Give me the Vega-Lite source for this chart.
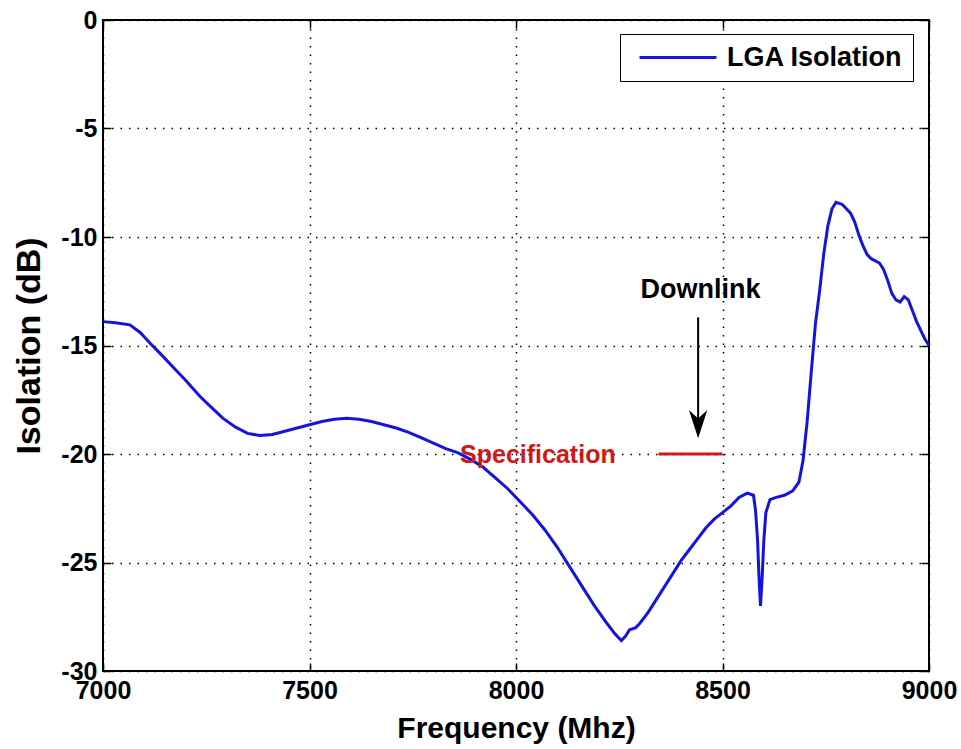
{
  "$schema": "https://vega.github.io/schema/vega-lite/v6.json",
  "width": 826,
  "height": 651,
  "autosize": {"type": "none"},
  "padding": {"left": 103, "top": 20, "right": 32, "bottom": 78},
  "background": "white",
  "config": {
    "view": {"stroke": "black", "strokeWidth": 2},
    "font": "Liberation Sans",
    "axis": {
      "grid": true,
      "gridColor": "black",
      "gridDash": [1.5, 7],
      "gridWidth": 1.5,
      "gridOpacity": 1,
      "domain": false,
      "tickColor": "black",
      "tickSize": -8,
      "tickWidth": 1.5,
      "labelFont": "Liberation Sans",
      "labelFontWeight": "bold",
      "labelFontSize": 25,
      "labelColor": "black",
      "titleFont": "Liberation Sans",
      "titleFontWeight": "bold",
      "titleColor": "black"
    }
  },
  "datasets": {
    "curve": [
      {"f": 7000, "v": -13.9}, {"f": 7030, "v": -13.95}, {"f": 7065, "v": -14.05}, {"f": 7090, "v": -14.4},
      {"f": 7114, "v": -14.9}, {"f": 7140, "v": -15.4}, {"f": 7170, "v": -16.0}, {"f": 7200, "v": -16.6},
      {"f": 7235, "v": -17.35}, {"f": 7265, "v": -17.9}, {"f": 7290, "v": -18.35}, {"f": 7320, "v": -18.75},
      {"f": 7350, "v": -19.05}, {"f": 7380, "v": -19.15}, {"f": 7410, "v": -19.1}, {"f": 7440, "v": -18.95},
      {"f": 7470, "v": -18.8}, {"f": 7500, "v": -18.65}, {"f": 7530, "v": -18.5}, {"f": 7560, "v": -18.4},
      {"f": 7590, "v": -18.35}, {"f": 7620, "v": -18.4}, {"f": 7650, "v": -18.5}, {"f": 7680, "v": -18.65},
      {"f": 7710, "v": -18.8}, {"f": 7740, "v": -19.0}, {"f": 7770, "v": -19.25}, {"f": 7800, "v": -19.5},
      {"f": 7830, "v": -19.75}, {"f": 7860, "v": -19.95}, {"f": 7890, "v": -20.25}, {"f": 7920, "v": -20.6},
      {"f": 7950, "v": -21.1}, {"f": 7980, "v": -21.6}, {"f": 8010, "v": -22.2}, {"f": 8040, "v": -22.8},
      {"f": 8070, "v": -23.5}, {"f": 8100, "v": -24.3}, {"f": 8130, "v": -25.2}, {"f": 8160, "v": -26.1},
      {"f": 8190, "v": -27.0}, {"f": 8220, "v": -27.8}, {"f": 8240, "v": -28.3}, {"f": 8255, "v": -28.6},
      {"f": 8265, "v": -28.4}, {"f": 8275, "v": -28.1}, {"f": 8290, "v": -28.0}, {"f": 8300, "v": -27.8},
      {"f": 8320, "v": -27.3}, {"f": 8340, "v": -26.7}, {"f": 8360, "v": -26.1}, {"f": 8380, "v": -25.5},
      {"f": 8400, "v": -24.9}, {"f": 8420, "v": -24.4}, {"f": 8440, "v": -23.9}, {"f": 8460, "v": -23.4},
      {"f": 8480, "v": -23.0}, {"f": 8500, "v": -22.7}, {"f": 8520, "v": -22.4}, {"f": 8540, "v": -22.0},
      {"f": 8560, "v": -21.8}, {"f": 8575, "v": -21.9}, {"f": 8580, "v": -22.6}, {"f": 8585, "v": -24.0},
      {"f": 8588, "v": -25.5}, {"f": 8592, "v": -27.0}, {"f": 8596, "v": -25.7}, {"f": 8600, "v": -24.0},
      {"f": 8605, "v": -22.7}, {"f": 8615, "v": -22.1}, {"f": 8630, "v": -22.0}, {"f": 8650, "v": -21.9},
      {"f": 8670, "v": -21.7}, {"f": 8685, "v": -21.3}, {"f": 8695, "v": -20.3}, {"f": 8705, "v": -18.5},
      {"f": 8715, "v": -16.2}, {"f": 8725, "v": -14.0}, {"f": 8735, "v": -12.5}, {"f": 8745, "v": -10.8},
      {"f": 8755, "v": -9.5}, {"f": 8765, "v": -8.7}, {"f": 8775, "v": -8.4}, {"f": 8790, "v": -8.5},
      {"f": 8800, "v": -8.7}, {"f": 8810, "v": -8.9}, {"f": 8820, "v": -9.3}, {"f": 8830, "v": -9.9},
      {"f": 8840, "v": -10.4}, {"f": 8850, "v": -10.8}, {"f": 8860, "v": -11.0}, {"f": 8870, "v": -11.1},
      {"f": 8880, "v": -11.2}, {"f": 8890, "v": -11.5}, {"f": 8900, "v": -12.0}, {"f": 8910, "v": -12.6},
      {"f": 8920, "v": -12.9}, {"f": 8930, "v": -13.0}, {"f": 8940, "v": -12.75}, {"f": 8950, "v": -12.9},
      {"f": 8960, "v": -13.4}, {"f": 8970, "v": -13.9}, {"f": 8980, "v": -14.3}, {"f": 8990, "v": -14.7},
      {"f": 9000, "v": -15.0}
    ],
    "spec": [{"f1": 8345, "f2": 8500, "v": -20}],
    "arrow": [{"f": 8441, "v1": -13.7, "v2": -19.0, "vh": -18.62}],
    "specText": [{"f": 8053, "v": -20.05, "label": "Specification"}],
    "downText": [{"f": 8447, "v": -12.45, "label": "Downlink"}]
  },
  "resolve": {"axis": {"x": "independent", "y": "independent"}},
  "layer": [
    {
      "data": {"name": "curve"},
      "mark": {"type": "line", "strokeWidth": 3},
      "encoding": {
        "x": {
          "field": "f", "type": "quantitative",
          "scale": {"domain": [7000, 9000], "nice": false, "zero": false},
          "axis": {"values": [7000, 7500, 8000, 8500, 9000], "title": "Frequency (Mhz)", "titleFontSize": 30, "labelPadding": 15, "titlePadding": 10, "labelExpr": "'' + datum.value", "labelFlush": false}
        },
        "y": {
          "field": "v", "type": "quantitative",
          "scale": {"domain": [-30, 0], "nice": false, "zero": false},
          "axis": {"values": [0, -5, -10, -15, -20, -25, -30], "title": "Isolation (dB)", "titleFontSize": 34, "labelPadding": 14, "titlePadding": 14, "labelExpr": "'' + datum.value"}
        },
        "color": {
          "datum": "LGA Isolation", "type": "nominal",
          "scale": {"range": ["#1414e0"]},
          "legend": {
            "orient": "none", "legendX": 517, "legendY": 14, "title": null,
            "symbolType": "M -0.4 0 L 7.3 0", "symbolSize": 400, "symbolStrokeWidth": 3,
            "symbolStrokeColor": "#1414e0", "symbolFillColor": "transparent",
            "labelFont": "Liberation Sans", "labelFontWeight": "bold", "labelFontSize": 27, "labelColor": "black",
            "labelLimit": 400, "labelOffset": 70, "strokeColor": "black", "fillColor": "white", "padding": 10
          }
        }
      }
    },
    {
      "data": {"name": "spec"},
      "mark": {"type": "rule", "color": "#d01818", "strokeWidth": 3},
      "encoding": {
        "x": {"field": "f1", "type": "quantitative", "axis": {"orient": "top", "values": [7000, 7500, 8000, 8500, 9000], "labels": false, "grid": false, "title": null}},
        "x2": {"field": "f2"},
        "y": {"field": "v", "type": "quantitative", "axis": {"orient": "right", "values": [0, -5, -10, -15, -20, -25, -30], "labels": false, "grid": false, "title": null}}
      }
    },
    {
      "data": {"name": "arrow"},
      "mark": {"type": "rule", "color": "black", "strokeWidth": 2},
      "encoding": {
        "x": {"field": "f", "type": "quantitative", "axis": null},
        "y": {"field": "v1", "type": "quantitative", "axis": null},
        "y2": {"field": "v2"}
      }
    },
    {
      "data": {"name": "arrow"},
      "mark": {"type": "point", "shape": "M -0.65 -1 L 0 1 L 0.65 -1 L 0 -0.4 Z", "filled": true, "color": "black", "size": 800, "opacity": 1},
      "encoding": {
        "x": {"field": "f", "type": "quantitative", "axis": null},
        "y": {"field": "vh", "type": "quantitative", "axis": null}
      }
    },
    {
      "data": {"name": "specText"},
      "mark": {"type": "text", "color": "#d01818", "font": "Liberation Sans", "fontWeight": "bold", "fontSize": 25, "align": "center", "baseline": "middle"},
      "encoding": {
        "x": {"field": "f", "type": "quantitative", "axis": null},
        "y": {"field": "v", "type": "quantitative", "axis": null},
        "text": {"field": "label"}
      }
    },
    {
      "data": {"name": "downText"},
      "mark": {"type": "text", "color": "black", "font": "Liberation Sans", "fontWeight": "bold", "fontSize": 27, "align": "center", "baseline": "middle"},
      "encoding": {
        "x": {"field": "f", "type": "quantitative", "axis": null},
        "y": {"field": "v", "type": "quantitative", "axis": null},
        "text": {"field": "label"}
      }
    }
  ]
}
